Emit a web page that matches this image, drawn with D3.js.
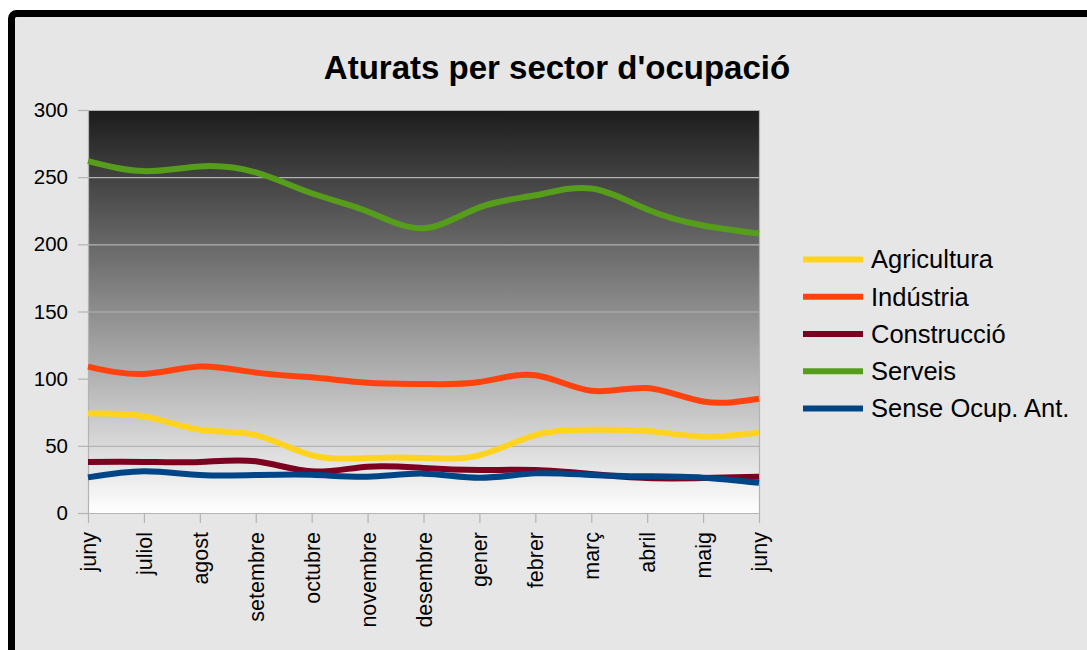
<!DOCTYPE html>
<html>
<head>
<meta charset="utf-8">
<script src="https://cdn.jsdelivr.net/npm/d3@7"></script>
<style>
  html, body { margin: 0; padding: 0; background: #ffffff; }
  svg { display: block; }
  text { font-family: "Liberation Sans", Arial, sans-serif; fill: #000; }
</style>
</head>
<body>
<svg id="chart" width="1087" height="650"></svg>
<script>
const title = "Aturats per sector d'ocupació";
const months = ["juny","juliol","agost","setembre","octubre","novembre","desembre","gener","febrer","març","abril","maig","juny "];
const yTicks = [0, 50, 100, 150, 200, 250, 300];
const seriesNames = ["Agricultura", "Indústria", "Construcció", "Serveis", "Sense Ocup. Ant."];
const seriesColors = ["#ffd320", "#ff420e", "#7e0021", "#579d1c", "#004586"];
const agricultura = [74, 72, 62, 58, 43, 41, 41, 43, 58, 62, 61, 57, 60];
const industria   = [109, 103.5, 109, 104.5, 101, 97, 96, 97.5, 102.5, 91, 93, 83, 85];
const construccio = [38, 38, 38, 38.5, 31, 34.5, 33.5, 32, 32, 29, 26, 26, 27];
const serveis     = [262, 254.5, 258, 253.5, 238, 224.5, 212, 227.5, 236.5, 241.5, 226, 214, 208];
const senseOcup   = [26.5, 31, 28.3, 28.2, 28.5, 27, 29.3, 26.3, 29.5, 28.3, 27.3, 26.3, 22.5];
const seriesValues = [agricultura, industria, construccio, serveis, senseOcup];

const svg = d3.select("#chart");

// outer frame
svg.append("rect")
  .attr("x", 11.5).attr("y", 13.5)
  .attr("width", 1100).attr("height", 660)
  .attr("rx", 5)
  .attr("fill", "#e6e6e6")
  .attr("stroke", "#000").attr("stroke-width", 7);

const plot = { left: 88, top: 110, right: 759, bottom: 513 };

const x = d3.scalePoint().domain(months).range([plot.left, plot.right]);
const y = d3.scaleLinear().domain([0, 300]).range([plot.bottom, plot.top]);

// gradient
const defs = svg.append("defs");
const grad = defs.append("linearGradient").attr("id", "bg")
  .attr("x1", 0).attr("y1", 0).attr("x2", 0).attr("y2", 1);
grad.append("stop").attr("offset", "0%").attr("stop-color", "#1c1c1c");
grad.append("stop").attr("offset", "100%").attr("stop-color", "#ffffff");

svg.append("rect")
  .attr("x", plot.left).attr("y", plot.top)
  .attr("width", plot.right - plot.left).attr("height", plot.bottom - plot.top)
  .attr("fill", "url(#bg)");

// gridlines
svg.append("g").selectAll("line").data(yTicks.filter(d => d > 0)).join("line")
  .attr("x1", plot.left).attr("x2", plot.right)
  .attr("y1", d => y(d) + 0.5).attr("y2", d => y(d) + 0.5)
  .attr("stroke", "#b3b3b3").attr("stroke-width", 1.2);

// right border of plot
svg.append("line")
  .attr("x1", plot.right + 0.5).attr("x2", plot.right + 0.5)
  .attr("y1", plot.top).attr("y2", plot.bottom)
  .attr("stroke", "#b3b3b3").attr("stroke-width", 1.2);

// y axis
const yAxis = svg.append("g")
  .attr("transform", `translate(${plot.left},0)`)
  .call(d3.axisLeft(y).tickValues(yTicks).tickSize(10).tickPadding(10));
yAxis.select(".domain").attr("stroke", "#b3b3b3").attr("stroke-width", 1.2);
yAxis.selectAll(".tick line").attr("stroke", "#b3b3b3").attr("stroke-width", 1.2);
yAxis.selectAll(".tick text")
  .style("font-family", "'Liberation Sans', Arial, sans-serif")
  .style("font-size", "20.5px").attr("fill", "#000");

// x axis
const xAxis = svg.append("g")
  .attr("transform", `translate(0,${plot.bottom})`)
  .call(d3.axisBottom(x).tickSize(10).tickSizeOuter(0).tickPadding(0));
xAxis.select(".domain").attr("stroke", "#b3b3b3").attr("stroke-width", 1.2);
xAxis.selectAll(".tick line").attr("stroke", "#b3b3b3").attr("stroke-width", 1.2);
xAxis.selectAll(".tick text")
  .style("font-family", "'Liberation Sans', Arial, sans-serif")
  .style("font-size", "21.5px").attr("fill", "#000")
  .attr("text-anchor", "end")
  .attr("transform", "translate(0,19) rotate(-90)")
  .attr("x", 0).attr("y", 0).attr("dy", "0.35em");

// lines
const line = d3.line()
  .x((d, i) => x(months[i]))
  .y(d => y(d))
  .curve(d3.curveNatural);

svg.append("g").selectAll("path").data(seriesValues).join("path")
  .attr("d", d => line(d))
  .attr("fill", "none")
  .attr("stroke", (d, i) => seriesColors[i])
  .attr("stroke-width", 6)
  .attr("stroke-linejoin", "round");

// title
svg.append("text")
  .attr("x", 557).attr("y", 79)
  .attr("text-anchor", "middle")
  .style("font-size", "33px").style("font-weight", "bold")
  .text(title);

// legend
const legend = svg.append("g");
const rows = legend.selectAll("g").data(seriesNames).join("g")
  .attr("transform", (d, i) => `translate(803,${259.5 + i * 37.25})`);
rows.append("line")
  .attr("x1", 0).attr("x2", 60).attr("y1", 0).attr("y2", 0)
  .attr("stroke", (d, i) => seriesColors[i]).attr("stroke-width", 6);
rows.append("text")
  .attr("x", 68).attr("y", 0).attr("dy", "0.35em")
  .style("font-size", "25.5px")
  .text(d => d);
</script>
</body>
</html>
